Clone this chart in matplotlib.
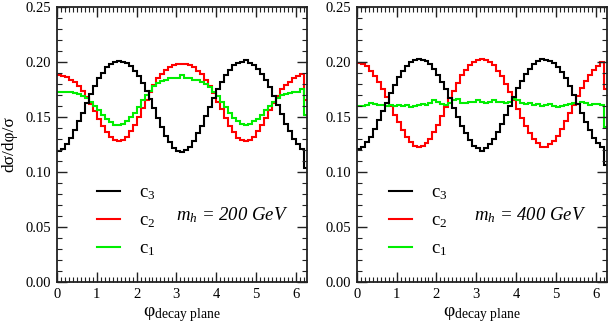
import numpy as np
import matplotlib
matplotlib.use('Agg')
import matplotlib.pyplot as plt
from matplotlib.ticker import MultipleLocator, FormatStrFormatter
from matplotlib.lines import Line2D

plt.rcParams['font.family'] = ['Liberation Serif', 'DejaVu Serif']
plt.rcParams['mathtext.fontset'] = 'custom'
plt.rcParams['mathtext.rm'] = 'Liberation Serif'
plt.rcParams['mathtext.it'] = 'Liberation Serif:italic'

# bin edges of the phi histogram (width 0.1, last bin cut at 2*pi)
bin_edges = np.linspace(0, 6.3, 64)

# m_h = 200 GeV
c3_200 = [0.119, 0.121, 0.125, 0.131, 0.138, 0.146, 0.154, 0.163, 0.171, 0.178,
          0.185, 0.190, 0.195, 0.198, 0.200, 0.201, 0.200, 0.199, 0.196, 0.192,
          0.187, 0.181, 0.174, 0.166, 0.158, 0.149, 0.141, 0.133, 0.127, 0.122,
          0.119, 0.118, 0.120, 0.123, 0.128, 0.135, 0.142, 0.151, 0.159, 0.167,
          0.175, 0.182, 0.188, 0.193, 0.197, 0.199, 0.200, 0.202, 0.199, 0.197,
          0.194, 0.189, 0.184, 0.177, 0.169, 0.161, 0.153, 0.144, 0.137, 0.130,
          0.125, 0.121, 0.104]
c2_200 = [0.188, 0.187, 0.186, 0.184, 0.182, 0.178, 0.174, 0.168, 0.162, 0.155,
          0.148, 0.142, 0.136, 0.132, 0.129, 0.128, 0.129, 0.132, 0.137, 0.143,
          0.150, 0.158, 0.165, 0.173, 0.179, 0.185, 0.189, 0.193, 0.195, 0.197,
          0.198, 0.198, 0.198, 0.197, 0.195, 0.192, 0.189, 0.184, 0.178, 0.172,
          0.164, 0.157, 0.149, 0.142, 0.136, 0.131, 0.129, 0.128, 0.129, 0.132,
          0.137, 0.143, 0.149, 0.156, 0.163, 0.169, 0.175, 0.179, 0.182, 0.185,
          0.187, 0.189, 0.165]
c1_200 = [0.173, 0.173, 0.173, 0.173, 0.172, 0.171, 0.169, 0.167, 0.164, 0.160,
          0.156, 0.152, 0.148, 0.145, 0.143, 0.143, 0.144, 0.146, 0.150, 0.154,
          0.159, 0.165, 0.170, 0.174, 0.178, 0.181, 0.183, 0.184, 0.185, 0.185,
          0.185, 0.188, 0.185, 0.185, 0.184, 0.184, 0.182, 0.180, 0.177, 0.173,
          0.169, 0.164, 0.159, 0.154, 0.149, 0.146, 0.144, 0.143, 0.144, 0.146,
          0.148, 0.152, 0.156, 0.160, 0.164, 0.167, 0.170, 0.171, 0.172, 0.173,
          0.173, 0.175, 0.152]

# m_h = 400 GeV
c3_400 = [0.121, 0.123, 0.127, 0.132, 0.139, 0.147, 0.155, 0.163, 0.172, 0.179,
          0.186, 0.192, 0.196, 0.200, 0.202, 0.203, 0.202, 0.201, 0.198, 0.194,
          0.188, 0.182, 0.175, 0.167, 0.158, 0.150, 0.142, 0.135, 0.129, 0.124,
          0.122, 0.119, 0.122, 0.125, 0.130, 0.136, 0.144, 0.152, 0.160, 0.168,
          0.176, 0.183, 0.189, 0.194, 0.198, 0.201, 0.203, 0.202, 0.201, 0.199,
          0.195, 0.191, 0.185, 0.178, 0.170, 0.162, 0.154, 0.145, 0.138, 0.131,
          0.126, 0.123, 0.106]
c2_400 = [0.199, 0.198, 0.196, 0.192, 0.187, 0.182, 0.175, 0.168, 0.160, 0.152,
          0.145, 0.138, 0.132, 0.127, 0.124, 0.123, 0.124, 0.126, 0.130, 0.136,
          0.143, 0.151, 0.159, 0.167, 0.174, 0.181, 0.188, 0.193, 0.197, 0.200,
          0.202, 0.203, 0.202, 0.200, 0.197, 0.192, 0.187, 0.180, 0.173, 0.165,
          0.157, 0.149, 0.142, 0.135, 0.130, 0.126, 0.123, 0.123, 0.125, 0.128,
          0.133, 0.139, 0.146, 0.154, 0.161, 0.169, 0.176, 0.183, 0.188, 0.193,
          0.196, 0.200, 0.175]
c1_400 = [0.160, 0.160, 0.161, 0.163, 0.162, 0.161, 0.161, 0.160, 0.161, 0.160,
          0.161, 0.160, 0.161, 0.159, 0.160, 0.161, 0.162, 0.161, 0.163, 0.165,
          0.164, 0.162, 0.161, 0.163, 0.165, 0.166, 0.163, 0.163, 0.164, 0.164,
          0.165, 0.164, 0.163, 0.164, 0.165, 0.164, 0.164, 0.163, 0.164, 0.166,
          0.165, 0.163, 0.162, 0.163, 0.161, 0.162, 0.160, 0.161, 0.162, 0.160,
          0.159, 0.160, 0.161, 0.162, 0.163, 0.162, 0.164, 0.163, 0.161, 0.162,
          0.162, 0.161, 0.141]

panels = [
    (c3_200, c2_200, c1_200, r'$m_h$ = 200 GeV', 0.160, 0.475),
    (c3_400, c2_400, c1_400, r'$m_h$ = 400 GeV', 0.128, 0.468),
]
colors = {'c3': '#000000', 'c2': '#ff0000', 'c1': '#00ee00'}

fig = plt.figure(figsize=(6.09, 3.31), dpi=100)
axes = [fig.add_axes([0.0936, 0.148, 0.4105, 0.831]),
        fig.add_axes([0.586, 0.148, 0.4105, 0.831])]

for ax, (s3, s2, s1, mtext, legx, textx) in zip(axes, panels):
    ax.stairs(s2, bin_edges, color=colors['c2'], lw=1.5, baseline=None)
    ax.stairs(s1, bin_edges, color=colors['c1'], lw=1.5, baseline=None)
    ax.stairs(s3, bin_edges, color=colors['c3'], lw=1.5, baseline=None)
    ax.set_xlim(0, 2 * np.pi)
    ax.set_ylim(0, 0.25)
    ax.xaxis.set_major_locator(MultipleLocator(1))
    ax.xaxis.set_minor_locator(MultipleLocator(0.1))
    ax.yaxis.set_major_locator(MultipleLocator(0.05))
    ax.yaxis.set_minor_locator(MultipleLocator(0.01))
    ax.yaxis.set_major_formatter(FormatStrFormatter('%.2f'))
    ax.tick_params(which='both', direction='in', top=True, right=True,
                   labelsize=10.5, color='#222222')
    ax.tick_params(which='major', length=7, width=1.0, pad=4)
    ax.tick_params(which='minor', length=3.5, width=0.8)
    for sp in ax.spines.values():
        sp.set_linewidth(1.3)
        sp.set_color('#222222')
    ax.set_xlabel('φ$_{\\mathrm{decay\\ plane}}$', fontsize=14, labelpad=3)
    handles = [Line2D([], [], color=colors['c3'], lw=1.5),
               Line2D([], [], color=colors['c2'], lw=1.5),
               Line2D([], [], color=colors['c1'], lw=1.5)]
    ax.legend(handles, ['c$_3$', 'c$_2$', 'c$_1$'], loc='upper left',
              bbox_to_anchor=(legx, 0.355), frameon=False, fontsize=13.5,
              handlelength=1.25, handletextpad=1.0, labelspacing=0.55,
              borderpad=0, borderaxespad=0)
    ax.text(textx, 0.244, mtext, transform=ax.transAxes, fontsize=13.5,
            style='italic', ha='left', va='center')

axes[0].set_ylabel('dσ/dφ/σ', fontsize=12.5)
axes[0].yaxis.set_label_coords(-0.16, 0.5)

fig.savefig('out.png', dpi=100)
